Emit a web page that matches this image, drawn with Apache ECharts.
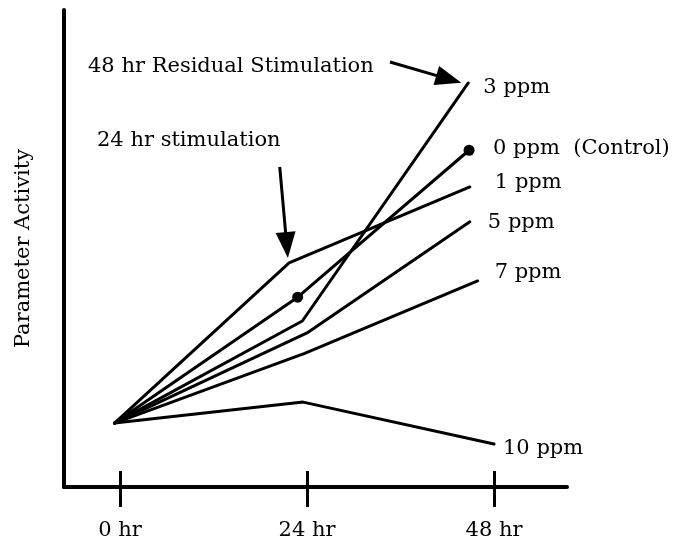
<!DOCTYPE html>
<html>
<head>
<meta charset="utf-8">
<script src="https://cdn.jsdelivr.net/npm/echarts@6/dist/echarts.min.js"></script>
<style>html,body{margin:0;padding:0;background:#fff}#c{width:679px;height:546px}</style>
</head>
<body>
<div id="c"></div>
<script>
// ---- data (hours, parameter activity in arbitrary units) ----
const tickValues = [0, 24, 48];
const tickLabels = ['0 hr', '24 hr', '48 hr'];
const seriesNames = ['3 ppm', '0 ppm  (Control)', '1 ppm', '5 ppm', '7 ppm', '10 ppm'];
const hours3 = [-0.7, 23.4, 44.7];   const act3 = [13.4, 34.8, 84.7];
const hours0 = [-0.7, 22.8, 44.8];   const act0 = [13.4, 39.8, 70.6];
const hours1 = [-0.7, 21.7, 44.9];   const act1 = [13.4, 47.0, 62.9];
const hours5 = [-0.7, 24.0, 44.9];   const act5 = [13.4, 32.3, 55.6];
const hours7 = [-0.7, 23.7, 45.9];   const act7 = [13.4, 28.0, 43.2];
const hours10 = [-0.7, 23.5, 48.0];  const act10 = [13.4, 17.8, 9.0];
const annotations = ['48 hr Residual Stimulation', '24 hr stimulation'];
const yAxisTitle = 'Parameter Activity';

const FONT = 'DejaVu Serif';
const chart = echarts.init(document.getElementById('c'));

function pts(h, a) { return h.map((x, i) => [x, a[i]]); }
const allData = [pts(hours3, act3), pts(hours0, act0), pts(hours1, act1), pts(hours5, act5), pts(hours7, act7), pts(hours10, act10)];
const labelOffsets = [[15, 5], [24, -2], [25, -4], [18, 1], [17, -8], [9, 4]];

const series = allData.map((d, si) => ({
  type: 'line',
  name: seriesNames[si],
  xAxisIndex: 0,
  yAxisIndex: 0,
  animation: false,
  silent: true,
  lineStyle: { color: '#000', width: 3, cap: 'round', join: 'round' },
  itemStyle: { color: '#000' },
  symbol: si === 1 ? 'circle' : 'none',
  symbolSize: 11,
  showSymbol: si === 1,
  endLabel: {
    show: true, distance: 0, offset: labelOffsets[si],
    formatter: seriesNames[si],
    color: '#000', fontFamily: FONT, fontSize: 21
  },
  data: d.map((p, i) => {
    const item = { value: p };
    if (si === 1 && i === 0) item.symbol = 'none';
    return item;
  })
}));

// annotation arrows
series.push({
  type: 'line', data: [], xAxisIndex: 0, yAxisIndex: 0, animation: false, silent: true,
  markLine: {
    silent: true, animation: false,
    symbol: ['none', 'triangle'],
    symbolSize: [20, 26],
    label: { show: false },
    lineStyle: { color: '#000', width: 3, type: 'solid' },
    itemStyle: { color: '#000' },
    emphasis: { disabled: true },
    data: [
      [{ coord: [20.5, 67.1] }, { coord: [21.4, 50.7] }],
      [{ coord: [34.65, 89.1] }, { coord: [42.2, 85.5] }]
    ]
  }
});

const option = {
  backgroundColor: '#fff',
  animation: false,
  grid: { left: 64, right: 112, top: 10, bottom: 59, containLabel: false },
  xAxis: [{
    type: 'value', min: -7.19, max: 57.37, position: 'bottom',
    axisLine: { show: true, onZero: false, lineStyle: { color: '#000', width: 4 } },
    axisTick: { show: true, inside: false, length: 20, customValues: tickValues, lineStyle: { color: '#000', width: 3 } },
    axisLabel: { show: true, customValues: tickValues, margin: 33, color: '#000', fontFamily: FONT, fontSize: 21,
      formatter: v => tickLabels[tickValues.indexOf(v)] },
    splitLine: { show: false }
  }, {
    type: 'value', min: -7.19, max: 57.37, position: 'bottom',
    axisLine: { show: false, onZero: false },
    axisTick: { show: true, inside: true, length: 16, customValues: tickValues, lineStyle: { color: '#000', width: 3 } },
    axisLabel: { show: false },
    splitLine: { show: false }
  }],
  yAxis: [{
    type: 'value', min: 0, max: 100, position: 'left',
    axisLine: { show: true, onZero: false, lineStyle: { color: '#000', width: 4 } },
    axisTick: { show: false }, axisLabel: { show: false }, splitLine: { show: false },
    name: yAxisTitle, nameLocation: 'middle', nameRotate: 90, nameGap: 30,
    nameTextStyle: { color: '#000', fontFamily: FONT, fontSize: 21 }
  }],
  graphic: [
    { type: 'text', left: 88, top: 56, silent: true,
      style: { text: annotations[0], fill: '#000', font: '21px "DejaVu Serif"' } },
    { type: 'text', left: 97, top: 130, silent: true,
      style: { text: annotations[1], fill: '#000', font: '21px "DejaVu Serif"' } }
  ],
  series: series
};
chart.setOption(option);
</script>
</body>
</html>
